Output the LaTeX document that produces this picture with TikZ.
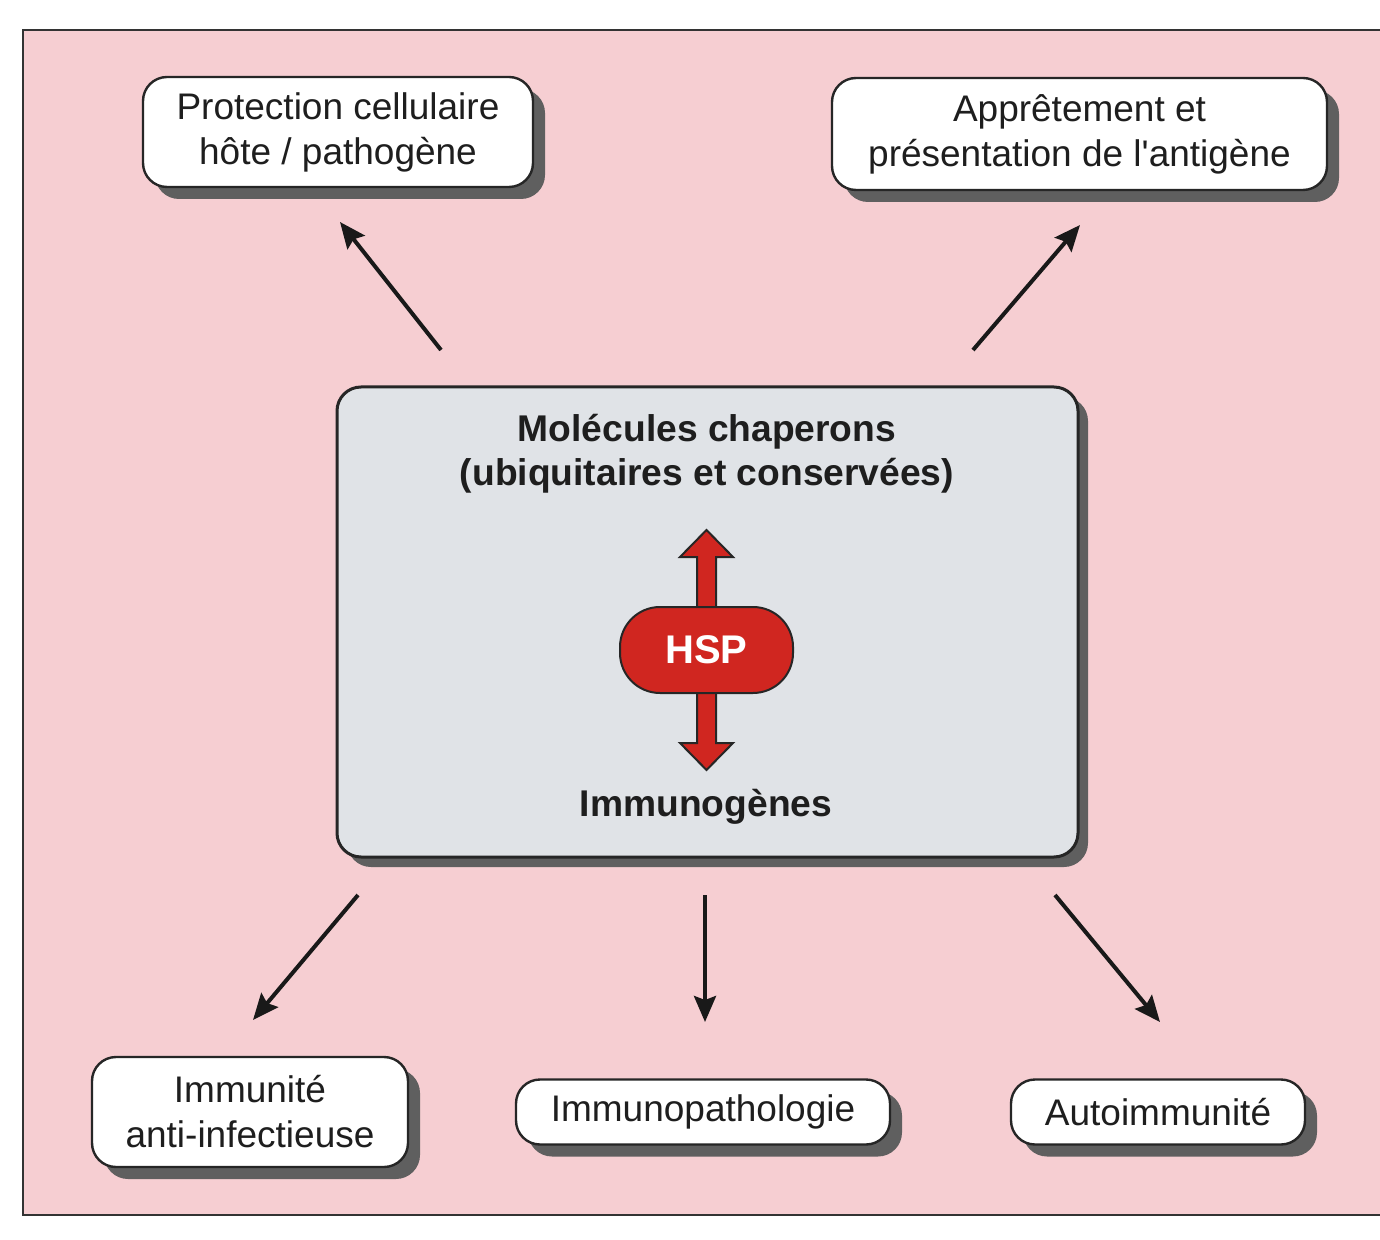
\documentclass[tikz,border=0pt]{standalone}
\usepackage{fontspec}
\setmainfont{Liberation Sans}[Ligatures=TeXOff]
\usetikzlibrary{shadows,arrows.meta}
\definecolor{bgpink}{RGB}{246,206,210}
\definecolor{boxgray}{RGB}{224,227,231}
\definecolor{hspred}{RGB}{208,38,32}
\definecolor{txt}{RGB}{30,30,30}
\definecolor{shadc}{RGB}{95,95,95}
\begin{document}
\begin{tikzpicture}[x=0.5pt,y=-0.5pt,
  lbl/.style={draw=black!85, line width=1.2pt, fill=white, rounded corners=12pt,
    align=center, text=txt, font=\fontsize{18.5}{22.5}\selectfont, inner sep=0pt,
    drop shadow={shadow xshift=6pt, shadow yshift=-6pt, fill=shadc, opacity=1}},
  mainbox/.style={draw=black!85, line width=1.5pt, fill=boxgray, rounded corners=12pt,
    inner sep=0pt, minimum width=370.5pt, minimum height=235pt,
    drop shadow={shadow xshift=5pt, shadow yshift=-5pt, fill=shadc, opacity=1}},
  boldtxt/.style={align=center, text=txt, font=\bfseries\fontsize{18.6}{22}\selectfont, inner sep=0pt},
  arr/.style={line width=2pt, draw=black!90, -{Stealth[length=13pt,width=11pt,inset=2pt]}},
  redarrow/.style={fill=hspred, draw=black!85, line width=1pt, line join=miter}
]
\useasboundingbox (0,0) rectangle (1380,1240);
% frame
\fill[bgpink] (23,30) rectangle (1380,1215);
\draw[line width=1.2pt, black!80] (1380,30) -- (23,30) -- (23,1215) -- (1380,1215);

% boxes
\node[lbl, minimum width=195pt, minimum height=55pt] (prot) at (338,132)
  {Protection cellulaire\\hôte / pathogène};
\node[lbl, minimum width=247.5pt, minimum height=56pt] (appr) at (1079.5,134)
  {Apprêtement et\\présentation de l'antigène};
\node[mainbox] (mol) at (707.5,622) {};
\node[lbl, minimum width=158pt, minimum height=55pt] (immu) at (250,1112)
  {Immunité\\anti-infectieuse};
\node[lbl, minimum width=187pt, minimum height=32.5pt] (path) at (703,1112)
  {Immunopathologie};
\node[lbl, minimum width=147pt, minimum height=32.5pt] (auto) at (1158,1112)
  {Autoimmunité};

% texts in main box
\node[boldtxt] (title) at (707,454) {Molécules chaperons\\(ubiquitaires et conservées)};
\node[boldtxt] (immg) at (706,807) {Immunogènes};

% HSP double arrow
\draw[redarrow] (697,625) -- (697,557) -- (680,557) -- (706.5,530) -- (733,557) -- (716,557) -- (716,625) -- cycle;
\draw[redarrow] (697,675) -- (697,743) -- (680,743) -- (706.5,770) -- (733,743) -- (716,743) -- (716,675) -- cycle;
\node[fill=hspred, draw=black!85, line width=1pt, rounded corners=20pt, minimum width=86.5pt,
  minimum height=43pt, inner sep=0pt, text=white, font=\bfseries\fontsize{20}{24}\selectfont] (hsp) at (706.5,650) {HSP};

% connectors
\coordinate (s1) at (441,350); \coordinate (e1) at (340,222);
\coordinate (s2) at (973,350); \coordinate (e2) at (1080,225);
\coordinate (s3) at (358,895); \coordinate (e3) at (253,1020);
\coordinate (s4) at (705,895); \coordinate (e4) at (705,1022);
\coordinate (s5) at (1055,895); \coordinate (e5) at (1160,1022);
\draw[arr] (s1) -- (e1);
\draw[arr] (s2) -- (e2);
\draw[arr] (s3) -- (e3);
\draw[arr] (s4) -- (e4);
\draw[arr] (s5) -- (e5);
\end{tikzpicture}
\end{document}
